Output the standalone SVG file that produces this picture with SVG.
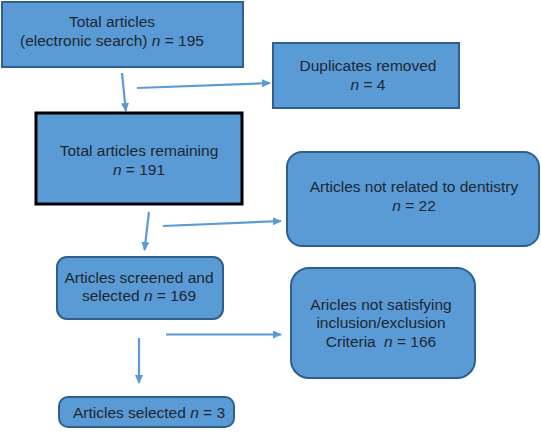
<svg xmlns="http://www.w3.org/2000/svg" width="541" height="433" viewBox="0 0 541 433">
<defs>
<style>
.box{fill:#5b9bd5;stroke:#2f5f8c;stroke-width:2}
.boxk{fill:#5b9bd5;stroke:#000;stroke-width:3}
text{font-family:"Liberation Sans",Arial,sans-serif;font-size:15.5px;fill:#1c2733;text-anchor:middle}
.it{font-style:italic}
.edge{stroke:#5b9bd5;stroke-width:2.2;fill:none;marker-end:url(#ah)}
</style>
<marker id="ah" markerWidth="9" markerHeight="8" refX="8" refY="4" orient="auto" markerUnits="userSpaceOnUse">
<path d="M0,0 L9,4 L0,8 Z" fill="#5b9bd5"/>
</marker>
</defs>
<rect width="541" height="433" fill="#fff"/>
<g id="connectors">
<line class="edge" x1="122" y1="73" x2="125.8" y2="111"/>
<line class="edge" x1="137" y1="88" x2="270" y2="83"/>
<line class="edge" x1="149" y1="212" x2="144.5" y2="250"/>
<line class="edge" x1="163" y1="226" x2="281" y2="221"/>
<line class="edge" x1="166" y1="334.5" x2="281" y2="334.5"/>
<line class="edge" x1="139" y1="338" x2="139" y2="383"/>
</g>
<g id="n1">
<rect class="box" x="2" y="2" width="241" height="65"/>
<text x="112" y="27">Total articles</text>
<text x="112" y="46">(electronic search) <tspan class="it">n</tspan> = 195</text>
</g>
<g id="n2">
<rect class="box" x="273" y="43" width="186" height="65"/>
<text x="368" y="71">Duplicates removed</text>
<text x="368" y="90"><tspan class="it">n</tspan> = 4</text>
</g>
<g id="n3">
<rect class="boxk" x="36" y="113" width="206" height="91"/>
<text x="139" y="156">Total articles remaining</text>
<text x="139" y="175"><tspan class="it">n</tspan> = 191</text>
</g>
<g id="n4">
<rect class="box" x="287" y="152" width="252" height="94" rx="15"/>
<text x="414" y="192">Articles not related to dentistry</text>
<text x="414" y="211"><tspan class="it">n</tspan> = 22</text>
</g>
<g id="n5">
<rect class="box" x="57" y="257" width="166" height="62" rx="10"/>
<text x="139" y="283">Articles screened and</text>
<text x="139" y="301">selected <tspan class="it">n</tspan> = 169</text>
</g>
<g id="n6">
<rect class="box" x="291" y="268" width="184" height="110" rx="18"/>
<text x="381" y="310">Aricles not satisfying</text>
<text x="381" y="328">inclusion/exclusion</text>
<text x="381" y="347">Criteria <tspan class="it" dx="4">n</tspan> = 166</text>
</g>
<g id="n7">
<rect class="box" x="59" y="397" width="175" height="30" rx="9"/>
<text x="149" y="418">Articles selected <tspan class="it">n</tspan> = 3</text>
</g>
</svg>
